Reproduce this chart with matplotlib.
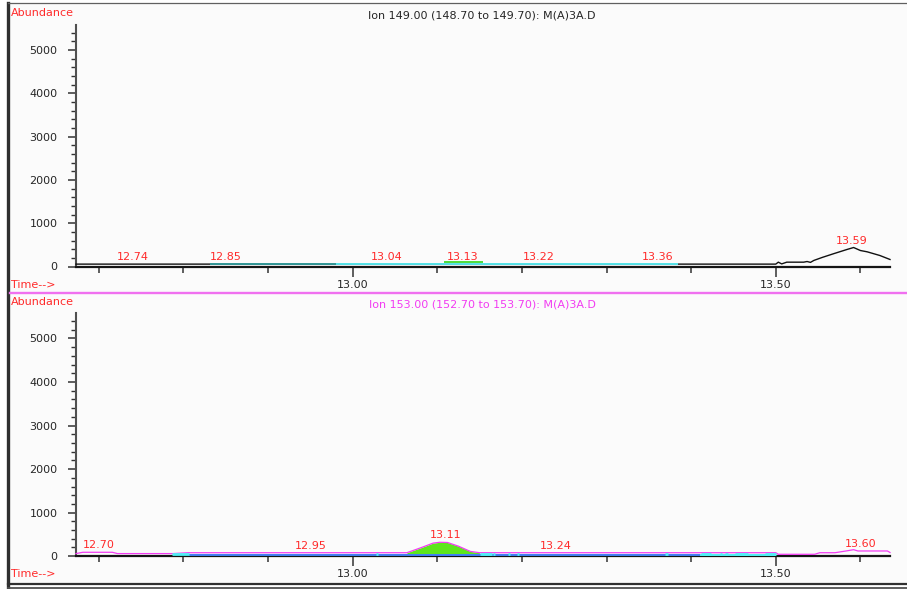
import numpy as np
import matplotlib
matplotlib.use("Agg")
import matplotlib.pyplot as plt
from matplotlib.lines import Line2D
from matplotlib.patches import Rectangle

plt.rcParams['font.family'] = ['DejaVu Sans']

W, H, DPI = 907, 589, 100

# ---------------- data ----------------
top_title = "Ion 149.00 (148.70 to 149.70): M(A)3A.D"
bot_title = "Ion 153.00 (152.70 to 153.70): M(A)3A.D"

x_range = (12.673, 13.635)
y_range = (0, 5585)
x_major = [13.00, 13.50]
x_major_labels = ["13.00", "13.50"]
x_minor = [12.70, 12.80, 12.90, 13.10, 13.20, 13.30, 13.40, 13.60]
y_major = [0, 1000, 2000, 3000, 4000, 5000]
y_minor = [200, 400, 600, 800, 1200, 1400, 1600, 1800, 2200, 2400, 2600, 2800,
           3200, 3400, 3600, 3800, 4200, 4400, 4600, 4800, 5200, 5400]

# Ion 149 signal
top_time = [12.673, 12.830, 13.000, 13.385, 13.500, 13.503, 13.507, 13.513,
            13.533, 13.537, 13.541, 13.545, 13.555, 13.568, 13.584, 13.592,
            13.600, 13.608, 13.623, 13.635]
top_abund = [55, 55, 55, 55, 55, 100, 60, 100,
             100, 115, 95, 140, 210, 293, 392, 438,
             369, 339, 254, 162]
# integration baselines for ion 149 (start, end, level, colour)
top_base_start = [12.831, 12.980, 13.108]
top_base_end = [12.980, 13.385, 13.154]
top_base_level = [62, 62, 105]
top_base_color = ["#2f9c9c", "#55eef5", "#3fd82a"]
top_peak_rt = [12.74, 12.85, 13.04, 13.13, 13.22, 13.36, 13.59]

# Ion 153 signal
bot_time = [12.673, 12.681, 12.716, 12.722, 12.787, 12.806, 13.064, 13.080,
            13.095, 13.103, 13.112, 13.125, 13.139, 13.150, 13.500, 13.503,
            13.546, 13.552, 13.570, 13.585, 13.592, 13.597, 13.632, 13.635]
bot_abund = [60, 90, 90, 60, 60, 80, 80, 190,
             300, 320, 315, 230, 110, 80, 80, 44,
             44, 80, 80, 126, 150, 120, 120, 85]
# blue baseline and cyan baseline pieces for ion 153
bot_blue = (12.806, 13.410, 32)
bot_cyan_start = [12.787, 13.027, 13.150, 13.166, 13.183, 13.194, 13.369,
                  13.410, 13.412, 13.434, 13.440, 13.452, 13.487]
bot_cyan_end = [12.806, 13.030, 13.165, 13.168, 13.186, 13.197, 13.373,
                13.500, 13.424, 13.437, 13.444, 13.467, 13.500]
bot_cyan_level = [50, 55, 55, 55, 55, 55, 55,
                  32, 55, 55, 55, 55, 55]
bot_fill = (13.064, 13.150, 55)
bot_peak_rt = [12.70, 12.95, 13.11, 13.24, 13.60]

RED = "#ff2a2a"
MAG = "#f23cf2"
TXT = "#262626"

fig = plt.figure(figsize=(W / DPI, H / DPI), dpi=DPI, facecolor="white")

# page frame drawn in pixel coordinates
bg = fig.add_axes([0, 0, 1, 1])
bg.set_xlim(0, W)
bg.set_ylim(H, 0)
bg.axis("off")
bg.add_patch(Rectangle((8, 3.5), W - 8, 580, facecolor="#fbfbfb", edgecolor="none"))
bg.add_line(Line2D([7.5, 7.5], [3, H], color="#303030", lw=2.4))
bg.add_line(Line2D([7.5, W], [3.3, 3.3], color="#606060", lw=0.9))
bg.add_line(Line2D([7.5, W], [583.5, 583.5], color="#303030", lw=1.6))
bg.add_line(Line2D([7.5, W], [587.5, 587.5], color="#505050", lw=1.3))
bg.add_line(Line2D([10, W], [292.8, 292.8], color="#f070f0", lw=1.7))


def px(x, y):
    return x / W, 1 - y / H


def style_axes(ax):
    ax.set_facecolor("none")
    ax.set_xlim(*x_range)
    ax.set_ylim(*y_range)
    for s in ("top", "right"):
        ax.spines[s].set_visible(False)
    ax.spines["left"].set_color("#505050")
    ax.spines["left"].set_linewidth(1.5)
    ax.spines["bottom"].set_color("#151515")
    ax.spines["bottom"].set_linewidth(1.6)
    ax.set_xticks(x_major)
    ax.set_xticklabels(x_major_labels)
    ax.set_xticks(x_minor, minor=True)
    ax.set_yticks(y_major)
    ax.set_yticklabels([str(v) for v in y_major])
    ax.set_yticks(y_minor, minor=True)
    ax.tick_params(axis="x", which="major", length=7, width=1.1, pad=2.5,
                   labelsize=8, colors="#333333", labelcolor=TXT)
    ax.tick_params(axis="x", which="minor", length=4.3, width=1.1, colors="#333333")
    ax.tick_params(axis="y", which="major", length=5.8, width=1.1, pad=7.5,
                   labelsize=8, colors="#333333", labelcolor=TXT)
    ax.tick_params(axis="y", which="minor", length=3.6, width=1.0, colors="#333333")


def label_peaks(ax, rts, t, a):
    for rt in rts:
        y = np.interp(rt, t, a)
        ax.annotate(f"{rt:.2f}", xy=(rt, y), xytext=(0, 3), textcoords="offset points",
                    ha="center", va="baseline", fontsize=8, color=RED, zorder=6)


left = 76 / W
width = (890 - 76) / W

# ---- Ion 149 ----
ax1 = fig.add_axes([left, 1 - 266.5 / H, width, (266.5 - 24.5) / H])
style_axes(ax1)
ax1.plot(top_time, top_abund, color="#111111", lw=1.0, zorder=3, clip_on=False)
for s, e, lv, c in zip(top_base_start, top_base_end, top_base_level, top_base_color):
    ax1.plot([s, e], [lv, lv], color=c, lw=1.3, zorder=4, solid_capstyle="butt")
label_peaks(ax1, top_peak_rt, top_time, top_abund)

# ---- Ion 153 ----
ax2 = fig.add_axes([left, 1 - 556.2 / H, width, (556.2 - 313) / H])
style_axes(ax2)
ax2.plot([bot_blue[0], bot_blue[1]], [bot_blue[2], bot_blue[2]], color="#3f7ef5",
         lw=1.4, zorder=5, solid_capstyle="butt")
fill_mask = [(bot_fill[0] <= t <= bot_fill[1]) for t in bot_time]
ax2.fill_between(bot_time, bot_fill[2], bot_abund, where=fill_mask,
                 color="#5de61c", lw=0, zorder=2)
ax2.plot(bot_time, bot_abund, color=MAG, lw=0.9, zorder=4, clip_on=False)
for s, e, lv in zip(bot_cyan_start, bot_cyan_end, bot_cyan_level):
    ax2.plot([s, e], [lv, lv], color="#4ff0f5", lw=1.4 if lv < 50 else 2.0,
             zorder=6, solid_capstyle="butt")
label_peaks(ax2, bot_peak_rt, bot_time, bot_abund)

# ---- header / axis captions ----
fig.text(*px(11, 13), "Abundance", color=RED, fontsize=8, ha="left", va="center")
fig.text(*px(11, 285), "Time-->", color=RED, fontsize=8, ha="left", va="center")
fig.text(*px(482, 15), top_title, color=TXT, fontsize=8, ha="center", va="center")
fig.text(*px(11, 302), "Abundance", color=RED, fontsize=8, ha="left", va="center")
fig.text(*px(11, 574), "Time-->", color=RED, fontsize=8, ha="left", va="center")
fig.text(*px(482, 304.5), bot_title, color=MAG, fontsize=8, ha="center", va="center")

fig.savefig("out.png", dpi=DPI, facecolor="white")
